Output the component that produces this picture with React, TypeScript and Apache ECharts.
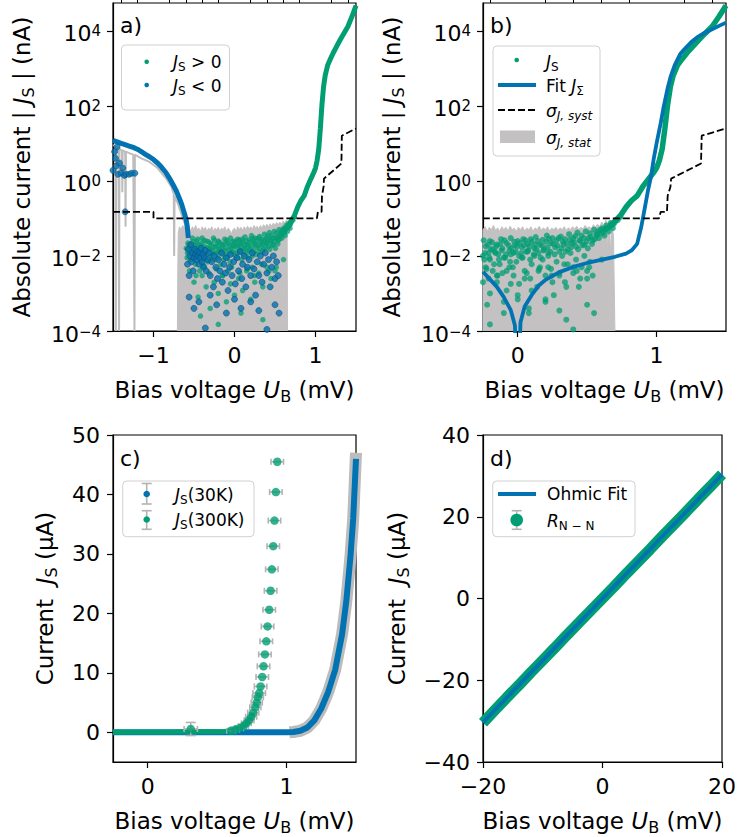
import React, { useEffect, useRef } from 'react';
import * as echarts from 'echarts';

const FONT = 'DejaVu Sans';
const GREEN = '#029e73';
const BLUE = '#0173b2';
const GRAY = '#c3c1c2';
const ERR = '#b3b3b3';

// ---------- ticks ----------
const xTicksA = [-1, 0, 1];
const xMinorA = [-1.4, -1.2, -0.8, -0.6, -0.4, -0.2, 0.2, 0.4, 0.6, 0.8, 1.2, 1.4];
const xTicksB = [0, 1];
const xMinorB = [-0.2, 0.2, 0.4, 0.6, 0.8, 1.2, 1.4];
const yTicksLog = [1e-4, 1e-2, 1, 1e2, 1e4];
const xTicksC = [0, 1];
const yTicksC = [0, 10, 20, 30, 40, 50];
const xTicksD = [-20, 0, 20];
const yTicksD = [-40, -20, 0, 20, 40];

// ---------- panel a / b data (|J| in nA vs U in mV) ----------
const statTopA = [[-0.705,1e-4],[-0.70,0.004],[-0.695,0.04],[-0.68,0.06],[-0.66,0.05],[-0.64,0.065],[-0.62,0.055],[-0.6,0.07],[-0.58,0.05],[-0.56,0.06],[-0.54,0.045],[-0.52,0.06],[-0.5,0.05],[-0.48,0.065],[-0.46,0.05],[-0.44,0.055],[-0.42,0.045],[-0.4,0.06],[-0.38,0.05],[-0.36,0.058],[-0.34,0.045],[-0.32,0.055],[-0.3,0.05],[-0.28,0.06],[-0.26,0.045],[-0.24,0.055],[-0.22,0.05],[-0.2,0.058],[-0.18,0.045],[-0.16,0.055],[-0.14,0.05],[-0.12,0.06],[-0.1,0.045],[-0.08,0.055],[-0.06,0.05],[-0.04,0.038],[-0.02,0.05],[0,0.055],[0.02,0.045],[0.04,0.06],[0.06,0.05],[0.08,0.058],[0.1,0.048],[0.12,0.06],[0.14,0.05],[0.16,0.062],[0.18,0.052],[0.2,0.06],[0.22,0.05],[0.24,0.065],[0.26,0.055],[0.28,0.062],[0.3,0.052],[0.32,0.065],[0.34,0.055],[0.36,0.068],[0.38,0.058],[0.4,0.07],[0.42,0.06],[0.44,0.072],[0.46,0.062],[0.48,0.075],[0.5,0.065],[0.52,0.078],[0.54,0.068],[0.56,0.08],[0.58,0.07],[0.6,0.085],[0.62,0.075],[0.64,0.09],[0.65,0.03],[0.655,1e-4]];

const statSpikesA = [[-1.5,9],[-1.47,8.5],[-1.465,1e-4],[-1.46,8],[-1.43,7.5],[-1.425,1e-4],[-1.42,7],[-1.39,6.5],[-1.385,0.5],[-1.38,6.5],[-1.35,6],[-1.345,0.06],[-1.34,6],[-1.3,5.5],[-1.25,5],[-1.235,1e-4],[-1.23,5],[-1.15,4],[-1.05,3.2],[-0.95,2.2],[-0.85,1.2],[-0.78,0.7],[-0.75,0.45],[-0.745,0.01],[-0.74,0.4],[-0.7,0.25],[-0.65,0.12],[-0.6,0.06]];

const statTopB = [[-0.25,1e-4],[-0.25,0.05],[-0.235,0.06],[-0.22,0.045],[-0.205,0.058],[-0.19,0.05],[-0.175,0.065],[-0.16,0.048],[-0.145,0.056],[-0.13,0.045],[-0.115,0.06],[-0.1,0.05],[-0.085,0.058],[-0.07,0.046],[-0.055,0.062],[-0.04,0.05],[-0.025,0.055],[-0.01,0.045],[0.005,0.058],[0.02,0.05],[0.035,0.06],[0.05,0.046],[0.065,0.055],[0.08,0.05],[0.095,0.06],[0.11,0.045],[0.125,0.056],[0.14,0.05],[0.155,0.062],[0.17,0.048],[0.185,0.056],[0.2,0.05],[0.215,0.06],[0.23,0.046],[0.245,0.055],[0.26,0.05],[0.275,0.058],[0.29,0.047],[0.305,0.056],[0.32,0.05],[0.335,0.06],[0.35,0.048],[0.365,0.056],[0.38,0.05],[0.395,0.06],[0.41,0.052],[0.425,0.062],[0.44,0.05],[0.455,0.058],[0.47,0.052],[0.485,0.065],[0.5,0.055],[0.515,0.06],[0.53,0.052],[0.545,0.068],[0.56,0.058],[0.575,0.07],[0.59,0.06],[0.605,0.08],[0.62,0.065],[0.635,0.09],[0.645,0.07],[0.645,0.012],[0.66,0.09],[0.67,0.01],[0.68,0.085],[0.69,0.03],[0.7,1e-4]];

const greenCloud = [[-0.58,0.012],[-0.56,0.02],[-0.55,0.008],[-0.53,0.015],[-0.52,0.03],[-0.5,0.01],[-0.49,0.018],[-0.48,0.006],[-0.47,0.025],[-0.45,0.012],[-0.44,0.02],[-0.43,0.004],[-0.42,0.015],[-0.4,0.03],[-0.39,0.009],[-0.38,0.018],[-0.36,0.012],[-0.35,0.025],[-0.33,0.007],[-0.32,0.016],[-0.3,0.022],[-0.29,0.01],[-0.27,0.014],[-0.26,0.03],[-0.24,0.008],[-0.23,0.018],[-0.21,0.012],[-0.2,0.025],[-0.18,0.015],[-0.17,0.006],[-0.15,0.02],[-0.14,0.011],[-0.12,0.028],[-0.11,0.016],[-0.09,0.009],[-0.08,0.022],[-0.06,0.014],[-0.05,0.03],[-0.03,0.012],[-0.02,0.019],[0,0.025],[0.01,0.01],[0.03,0.017],[0.04,0.028],[0.06,0.013],[0.07,0.021],[0.09,0.008],[0.1,0.024],[0.12,0.016],[0.13,0.032],[0.15,0.012],[0.16,0.02],[0.18,0.027],[0.19,0.015],[0.21,0.035],[0.22,0.01],[0.24,0.022],[0.25,0.03],[0.27,0.017],[0.28,0.026],[0.3,0.013],[0.31,0.033],[0.33,0.02],[0.34,0.028],[0.36,0.015],[0.37,0.038],[0.39,0.022],[0.4,0.03],[0.42,0.018],[0.43,0.042],[0.45,0.025],[0.46,0.035],[0.48,0.02],[0.49,0.045],[0.51,0.03],[0.52,0.04],[0.54,0.026],[0.55,0.05],[0.57,0.035],[0.58,0.045],[0.6,0.04],[0.61,0.055],[0.63,0.05],[0.64,0.065],[0.66,0.06],[0.67,0.075],[0.69,0.07],[-0.5,0.002],[-0.45,0.0008],[-0.4,0.003],[-0.35,0.0015],[-0.3,0.0004],[-0.25,0.002],[-0.2,0.001],[-0.15,0.003],[-0.1,0.0006],[-0.05,0.0018],[0,0.0009],[0.05,0.0025],[0.1,0.0012],[0.15,0.004],[0.2,0.0007],[0.25,0.002],[0.3,0.0035],[0.35,0.0015],[0.4,0.005],[0.45,0.0025],[0.5,0.004],[-0.42,0.00025],[-0.2,0.00015],[0.08,0.0003],[0.35,0.0002],[-0.38,0.0055],[0.22,0.005],[-0.08,0.004]];

const greenCloud2 = [[-0.595,0.016],[-0.585,0.009],[-0.575,0.022],[-0.565,0.013],[-0.545,0.018],[-0.535,0.011],[-0.515,0.024],[-0.505,0.014],[-0.495,0.008],[-0.485,0.02],[-0.465,0.016],[-0.455,0.028],[-0.435,0.011],[-0.425,0.019],[-0.415,0.007],[-0.405,0.022],[-0.385,0.013],[-0.375,0.026],[-0.365,0.009],[-0.345,0.017],[-0.335,0.012],[-0.325,0.024],[-0.305,0.015],[-0.295,0.008],[-0.285,0.02],[-0.275,0.011],[-0.255,0.017],[-0.245,0.026],[-0.235,0.012],[-0.215,0.02],[-0.205,0.009],[-0.195,0.015],[-0.185,0.023],[-0.165,0.013],[-0.155,0.018],[-0.135,0.008],[-0.125,0.021],[-0.115,0.014],[-0.095,0.026],[-0.085,0.011],[-0.065,0.019],[-0.055,0.007],[-0.045,0.016],[-0.025,0.024],[-0.015,0.013],[-0.005,0.018],[0.015,0.022],[0.025,0.012],[0.035,0.009],[0.045,0.019],[0.055,0.026],[0.075,0.014],[0.085,0.018],[0.095,0.028],[0.115,0.011],[0.125,0.02],[0.135,0.015],[0.145,0.025],[0.165,0.009],[0.175,0.019],[0.185,0.014],[0.205,0.024],[0.215,0.017],[0.225,0.029],[0.235,0.013],[0.255,0.021],[0.265,0.011],[0.285,0.019],[0.295,0.03],[0.315,0.016],[0.325,0.024],[0.345,0.013],[0.355,0.021],[0.375,0.027],[0.385,0.017],[0.405,0.023],[0.415,0.034],[0.435,0.015],[0.445,0.026],[0.465,0.019],[0.475,0.03],[0.495,0.024],[0.505,0.016],[0.525,0.032],[0.535,0.021],[0.555,0.028],[0.565,0.038],[0.585,0.03],[0.595,0.05],[0.615,0.042],[0.625,0.035],[0.645,0.055],[0.655,0.045],[0.675,0.065],[0.685,0.055],[0.7,0.08],[0.72,0.09],[0.74,0.11],[-0.555,0.004],[-0.475,0.003],[-0.395,0.005],[-0.315,0.0035],[-0.225,0.0045],[-0.145,0.003],[-0.035,0.005],[0.065,0.0035],[0.155,0.0045],[0.245,0.003],[0.335,0.006],[0.425,0.004],[0.515,0.005],[0.605,0.008]];

const blueCloud = [[-0.58,0.006],[-0.57,0.015],[-0.56,0.003],[-0.55,0.01],[-0.54,0.02],[-0.53,0.007],[-0.52,0.012],[-0.51,0.004],[-0.5,0.009],[-0.49,0.015],[-0.48,0.011],[-0.47,0.008],[-0.46,0.013],[-0.45,0.01],[-0.44,0.006],[-0.43,0.012],[-0.42,0.009],[-0.41,0.016],[-0.4,0.007],[-0.39,0.011],[-0.38,0.005],[-0.37,0.009],[-0.36,0.014],[-0.35,0.004],[-0.33,0.008],[-0.31,0.012],[-0.3,0.003],[-0.28,0.007],[-0.26,0.0015],[-0.25,0.01],[-0.23,0.005],[-0.21,0.0025],[-0.2,0.008],[-0.18,0.004],[-0.16,0.012],[-0.15,0.002],[-0.13,0.006],[-0.11,0.0035],[-0.1,0.009],[-0.08,0.0012],[-0.06,0.005],[-0.05,0.011],[-0.03,0.003],[-0.01,0.007],[0.01,0.0018],[0.03,0.009],[0.05,0.004],[0.07,0.013],[0.09,0.0025],[0.1,0.006],[0.12,0.01],[0.14,0.0015],[0.16,0.005],[0.18,0.008],[0.2,0.003],[0.22,0.012],[0.24,0.0045],[0.26,0.0009],[0.28,0.007],[0.3,0.003],[0.32,0.01],[0.34,0.002],[0.36,0.006],[0.38,0.012],[0.4,0.0035],[0.42,0.008],[0.44,0.0015],[0.46,0.005],[0.48,0.01],[0.5,0.0025],[0.52,0.007],[0.54,0.003],[-0.56,0.0008],[-0.5,0.0004],[-0.44,0.0006],[-0.36,0.00012],[-0.3,0.0009],[-0.22,0.0005],[-0.1,0.0003],[0.0,0.0007],[0.08,0.0004],[0.2,0.0006],[0.3,0.00035],[0.4,0.00011],[0.5,0.0005],[0.55,0.0003],[-1.5,1.9],[-1.47,4],[-1.46,2.5],[-1.44,1.5],[-1.42,3],[-1.4,1.6],[-1.38,2.2],[-1.36,1.4],[-1.34,1.5],[-1.3,1.5],[-1.27,1.6],[-1.35,0.15],[-1.23,1.6],[-1.48,6],[-1.45,8]];

const greenCurve = [[0.62,0.05],[0.66,0.06],[0.7,0.085],[0.74,0.12],[0.78,0.2],[0.82,0.3],[0.86,0.4],[0.9,0.7],[0.94,1.1],[0.98,1.7],[1.0,2.2],[1.02,3.5],[1.04,7],[1.06,25],[1.08,110],[1.1,330],[1.12,650],[1.15,1200],[1.18,1700],[1.22,2600],[1.26,3800],[1.3,5500],[1.35,8500],[1.4,13000],[1.45,24000],[1.5,47000]];

const blueCurveA = [[-1.5,12],[-1.45,11],[-1.4,10],[-1.35,9.2],[-1.3,8.5],[-1.25,7.8],[-1.2,7],[-1.15,6],[-1.1,5.1],[-1.05,4.4],[-1.0,3.7],[-0.95,3.0],[-0.9,2.3],[-0.85,1.7],[-0.8,1.15],[-0.76,0.8],[-0.72,0.55],[-0.68,0.34],[-0.65,0.23],[-0.62,0.14],[-0.6,0.1],[-0.585,0.065],[-0.575,0.04],[-0.57,0.03]];

const sigmaSyst = [[-1.5,0.15],[-1.0,0.15],[-1.0,0.1],[1.017,0.1],[1.03,0.15],[1.075,0.15],[1.08,0.4],[1.1,0.7],[1.105,1.15],[1.32,2.9],[1.325,16],[1.5,25]];

const fitSigma = [[-0.25,0.0038],[-0.15,0.0015],[-0.1,0.0008],[-0.05,0.00036],[-0.02,0.00014],[0,0.000001],[0.02,0.00017],[0.05,0.00045],[0.1,0.0009],[0.15,0.0016],[0.2,0.0023],[0.3,0.0037],[0.4,0.0051],[0.5,0.0065],[0.6,0.0079],[0.7,0.0095],[0.78,0.0115],[0.82,0.014],[0.86,0.021],[0.89,0.06],[0.91,0.15],[0.94,0.6],[0.96,1.3],[0.98,4],[1.0,10],[1.03,35],[1.05,90],[1.08,300],[1.1,580],[1.13,1200],[1.17,2400],[1.2,3200],[1.25,5000],[1.3,7000],[1.35,9000],[1.4,11000],[1.45,13500],[1.5,16500]];

// ---------- panel c data (J in µA) ----------
const blue30K = [[-0.25,0],[0,0],[0.5,0],[1.0,0],[1.05,0.05],[1.1,0.25],[1.15,0.8],[1.2,2.0],[1.25,4.0],[1.3,6.8],[1.35,10.5],[1.4,16.5],[1.43,22],[1.46,29.5],[1.48,36],[1.5,46]];
const blue30KErrBand = [[1.02,0],[1.05,0.05],[1.1,0.25],[1.15,0.8],[1.2,2.0],[1.25,4.0],[1.3,6.8],[1.35,10.5],[1.4,16.5],[1.43,22],[1.46,29.5],[1.48,36],[1.5,47]];
const green300KBase = [[-0.25,0],[-0.1,0],[0,0],[0.1,0.02],[0.2,0.05],[0.3,0.1],[0.4,0.08],[0.5,0.1],[0.55,0.15],[0.6,0.25],[0.63,0.45],[0.66,0.7],[0.69,1.05],[0.71,1.5],[0.73,2.0],[0.745,2.6],[0.76,3.3]];
// [U, J, xErr, yErr]
const green300KDots = [[0.31,0.55,0.048,1.1],[0.6,0.25,0.03,0],[0.63,0.45,0.03,0],[0.66,0.7,0.03,0],[0.69,1.05,0.035,0],[0.71,1.5,0.035,0],[0.73,2.0,0.035,0],[0.745,2.6,0.04,0],[0.76,3.3,0.04,0],[0.775,4.2,0.04,0],[0.785,5.0,0.04,0],[0.793,5.9,0.04,0],[0.803,6.6,0.045,0],[0.813,7.7,0.045,0],[0.825,9.3,0.045,0],[0.834,11.1,0.045,0],[0.844,13.1,0.045,0],[0.854,15.3,0.045,0],[0.863,17.8,0.045,0],[0.875,20.6,0.045,0],[0.885,23.8,0.045,0],[0.894,27.4,0.045,0],[0.904,31.3,0.045,0],[0.913,35.6,0.045,0],[0.923,40.4,0.045,0],[0.933,45.5,0.045,0]];

// ---------- panel d data ----------
const rNN = [[-20,-30.4],[-18,-27.3],[-16,-24.2],[-14,-21.2],[-12,-18.1],[-10,-15.1],[-8,-12.1],[-6,-9.0],[-4,-6.0],[-2,-3.0],[0,0.0],[2,3.0],[4,6.1],[6,9.1],[8,12.1],[10,15.2],[12,18.2],[14,21.2],[16,24.3],[18,27.3],[20,30.4]];
const ohmicFit = [[-20,-30.3],[20,30.3]];

// ---------- formatting ----------
const MINUS = '\u2212';
const fmtNum = (v: number) => (v < 0 ? MINUS + Math.abs(v) : String(v));
const fmtLog = (v: number) => {
  const e = Math.round(Math.log10(v));
  return `{b|10}{s|${e < 0 ? MINUS : ''}${Math.abs(e)}}`;
};
const TICK_FS = 22;
const NAME_FS = 23;
const LEG_FS = 17;

const richLog = {
  b: { fontFamily: FONT, fontSize: TICK_FS, color: '#000', lineHeight: 26, padding: [6, 0, 0, 0] },
  s: { fontFamily: FONT, fontSize: 15, color: '#000', lineHeight: 14, padding: [6, 0, 0, 0], verticalAlign: 'top' },
};
const richName = {
  t: { fontFamily: FONT, fontSize: NAME_FS, color: '#000', lineHeight: 28 },
  i: { fontFamily: FONT, fontSize: NAME_FS, fontStyle: 'italic', color: '#000', lineHeight: 28 },
  s: { fontFamily: FONT, fontSize: 16, color: '#000', lineHeight: 16, verticalAlign: 'bottom' },
};
const richLeg = {
  t: { fontFamily: FONT, fontSize: LEG_FS, color: '#000', lineHeight: 22 },
  i: { fontFamily: FONT, fontSize: LEG_FS, fontStyle: 'italic', color: '#000', lineHeight: 22 },
  s: { fontFamily: FONT, fontSize: 12, color: '#000', lineHeight: 12, verticalAlign: 'bottom' },
  si: { fontFamily: FONT, fontSize: 12, fontStyle: 'italic', color: '#000', lineHeight: 12, verticalAlign: 'bottom' },
};

const X_NAME = '{t|Bias voltage }{i|U}{s|B}{t| (mV)}';
const Y_NAME_LOG = '{t|Absolute current | }{i|J}{s|S}{t| | (nA)}';
const Y_NAME_LIN = '{t|Current  }{i|J}{s|S}{t| (μA)}';

const lineStyleAxis = { color: '#000', width: 1.2 };

function mkX(gridIndex: number, min: number, max: number, ticks: number[]) {
  return {
    type: 'value', gridIndex, min, max,
    name: X_NAME, nameLocation: 'middle', nameGap: 45,
    nameTextStyle: { fontFamily: FONT, fontSize: NAME_FS, color: '#000', rich: richName },
    axisLine: { show: true, onZero: false, lineStyle: lineStyleAxis },
    axisTick: { show: true, customValues: ticks, length: 6, lineStyle: lineStyleAxis },
    axisLabel: { show: true, customValues: ticks, formatter: fmtNum, margin: 13, fontFamily: FONT, fontSize: TICK_FS, color: '#000' },
    splitLine: { show: false },
  };
}
function mkMinorX(gridIndex: number, min: number, max: number, ticks: number[]) {
  return {
    type: 'value', gridIndex, min, max,
    axisLine: { show: false, onZero: false },
    axisTick: { show: true, customValues: ticks, length: 3.5, lineStyle: { color: '#000', width: 1 } },
    axisLabel: { show: false },
    splitLine: { show: false },
  };
}
function mkYLog(gridIndex: number, nameGap: number) {
  return {
    type: 'log', logBase: 10, gridIndex, min: 1e-4, max: 5.5e4,
    name: Y_NAME_LOG, nameLocation: 'middle', nameGap,
    nameTextStyle: { fontFamily: FONT, fontSize: 22.5, color: '#000', rich: richName },
    axisLine: { show: true, onZero: false, lineStyle: lineStyleAxis },
    axisTick: { show: true, customValues: yTicksLog, length: 6, lineStyle: lineStyleAxis },
    axisLabel: { show: true, customValues: yTicksLog, formatter: fmtLog, rich: richLog, margin: 12, fontFamily: FONT, fontSize: TICK_FS, color: '#000' },
    splitLine: { show: false }, minorTick: { show: false },
  };
}
function mkYLin(gridIndex: number, min: number, max: number, ticks: number[], nameGap: number) {
  return {
    type: 'value', gridIndex, min, max,
    name: Y_NAME_LIN, nameLocation: 'middle', nameGap,
    nameTextStyle: { fontFamily: FONT, fontSize: NAME_FS, color: '#000', rich: richName },
    axisLine: { show: true, onZero: false, lineStyle: lineStyleAxis },
    axisTick: { show: true, customValues: ticks, length: 6, lineStyle: lineStyleAxis },
    axisLabel: { show: true, customValues: ticks, formatter: fmtNum, margin: 13, fontFamily: FONT, fontSize: TICK_FS, color: '#000' },
    splitLine: { show: false },
  };
}

const gridBox = { show: true, borderColor: '#000', borderWidth: 1.2, backgroundColor: 'transparent' };

function lineS(name: string, xi: number, data: number[][], color: string, width: number, z: number, extra: any = {}, dash?: number[]) {
  return {
    type: 'line', name, xAxisIndex: xi, yAxisIndex: xi, data, symbol: 'none', silent: true, z,
    lineStyle: dash ? { color, width, type: dash } : { color, width }, ...extra,
  };
}

function errRender(params: any, api: any) {
  const x = api.value(0), y = api.value(1), ex = api.value(2), ey = api.value(3);
  const st = { stroke: ERR, lineWidth: 1.6 };
  const l = api.coord([x - ex, y]);
  const r = api.coord([x + ex, y]);
  const ch: any[] = [
    { type: 'line', shape: { x1: l[0], y1: l[1], x2: r[0], y2: r[1] }, style: st },
    { type: 'line', shape: { x1: l[0], y1: l[1] - 3, x2: l[0], y2: l[1] + 3 }, style: st },
    { type: 'line', shape: { x1: r[0], y1: r[1] - 3, x2: r[0], y2: r[1] + 3 }, style: st },
  ];
  if (ey > 0) {
    const t = api.coord([x, y + ey]);
    const b = api.coord([x, y - ey]);
    ch.push({ type: 'line', shape: { x1: t[0], y1: t[1], x2: b[0], y2: b[1] }, style: st });
    ch.push({ type: 'line', shape: { x1: t[0] - 5, y1: t[1], x2: t[0] + 5, y2: t[1] }, style: st });
    ch.push({ type: 'line', shape: { x1: b[0] - 5, y1: b[1], x2: b[0] + 5, y2: b[1] }, style: st });
  }
  return { type: 'group', children: ch };
}

// ---------- graphic helpers (legends, panel letters) ----------
const gz = 100;
const gText = (x: number, y: number, text: string, fs = LEG_FS) => ({
  type: 'text', x, y, z: gz + 2,
  style: { text, rich: richLeg, fill: '#000', fontFamily: FONT, fontSize: fs, verticalAlign: 'middle', align: 'left' },
});
const gBox = (x: number, y: number, w: number, h: number) => ({
  type: 'rect', z: gz, shape: { x, y, width: w, height: h, r: 4 },
  style: { fill: 'rgba(255,255,255,0.85)', stroke: '#d0d0d0', lineWidth: 1 },
});
const gDot = (cx: number, cy: number, r: number, color: string) => ({
  type: 'circle', z: gz + 2, shape: { cx, cy, r }, style: { fill: color },
});
const gLine = (x1: number, y1: number, x2: number, y2: number, stroke: string, lineWidth: number, lineDash?: number[]) => ({
  type: 'line', z: gz + 1, shape: { x1, y1, x2, y2 }, style: { stroke, lineWidth, lineDash },
});
const gErr = (cx: number, y1: number, y2: number) => [
  gLine(cx, y1, cx, y2, ERR, 1.6),
  gLine(cx - 5, y1, cx + 5, y1, ERR, 1.6),
  gLine(cx - 5, y2, cx + 5, y2, ERR, 1.6),
];
const gLetter = (x: number, y: number, t: string) => ({
  type: 'text', x, y, z: gz,
  style: { text: t, fill: '#000', fontFamily: FONT, fontSize: 22, verticalAlign: 'middle', align: 'left' },
});

function buildOption() {
  const graphic = [
    gLetter(120, 25, 'a)'), gLetter(490, 25, 'b)'), gLetter(120, 458, 'c)'), gLetter(490, 458, 'd)'),
    // legend a
    gBox(121.5, 45, 108, 65),
    gDot(146.7, 61.7, 2.3, GREEN), gText(173, 62, '{i|J}{s|S}{t| > 0}'),
    gDot(146.7, 85, 2.3, BLUE), gText(173, 86, '{i|J}{s|S}{t| < 0}'),
    // legend b
    gBox(493, 46, 107, 110),
    gDot(516.7, 60, 2.3, GREEN), gText(546, 62, '{i|J}{s|S}'),
    gLine(498, 85, 536, 85, BLUE, 3.8), gText(546, 86, '{t|Fit }{i|J}{s|Σ}'),
    gLine(498, 110, 536, 110, '#000', 1.8, [7, 3]), gText(546, 111, '{i|σ}{si|J, syst}'),
    { type: 'rect', z: gz + 1, shape: { x: 500, y: 130.5, width: 35, height: 12.5 }, style: { fill: GRAY } },
    gText(546, 138, '{i|σ}{si|J, stat}'),
    // legend c
    gBox(122.7, 481, 131.3, 55.7),
    ...gErr(146.7, 483.5, 504), gDot(146.7, 494, 3.3, BLUE), gText(175, 495, '{i|J}{s|S}{t|(30K)}'),
    ...gErr(146.7, 510.7, 529.3), gDot(146.7, 519.5, 3.3, GREEN), gText(175, 520, '{i|J}{s|S}{t|(300K)}'),
    // legend d
    gBox(492.7, 481, 142.3, 55.7),
    gLine(498, 494, 536, 494, BLUE, 3.8), gText(547, 494, '{t|Ohmic Fit}'),
    ...gErr(516.7, 510.7, 529.3), gDot(516.7, 520, 6.3, GREEN), gText(547, 521, '{i|R}{s|N − N}'),
  ];

  const cloudA = greenCloud.concat(greenCloud2);
  const cloudB = greenCloud.concat(greenCloud2, blueCloud);

  const series: any[] = [
    // ----- panel a -----
    lineS('σJ,stat', 0, statTopA, GRAY, 1, 1, { areaStyle: { color: GRAY, opacity: 1, origin: 'start' } }),
    lineS('σJ,stat spikes', 0, statSpikesA, '#bdbdbd', 2, 1),
    { type: 'scatter', name: 'JS > 0', xAxisIndex: 0, yAxisIndex: 0, data: cloudA, symbolSize: 5.5, silent: true, z: 3,
      itemStyle: { color: GREEN, opacity: 0.75 } },
    lineS('JS > 0 (curve)', 0, greenCurve, GREEN, 5, 4),
    { type: 'scatter', name: 'JS < 0', xAxisIndex: 0, yAxisIndex: 0, data: blueCloud, symbolSize: 6, silent: true, z: 5,
      itemStyle: { color: BLUE, borderColor: '#14507e', borderWidth: 0.8 } },
    lineS('JS < 0 (curve)', 0, blueCurveA, BLUE, 5, 5),
    lineS('σJ,syst', 0, sigmaSyst, '#000', 1.8, 6, {}, [7, 3]),
    // ----- panel b -----
    lineS('σJ,stat b', 1, statTopB, GRAY, 1, 1, { areaStyle: { color: GRAY, opacity: 1, origin: 'start' } }),
    { type: 'scatter', name: 'JS', xAxisIndex: 1, yAxisIndex: 1, data: cloudB, symbolSize: 6, silent: true, z: 3,
      itemStyle: { color: GREEN, opacity: 0.75 } },
    lineS('JS curve', 1, greenCurve, GREEN, 5.5, 4),
    lineS('Fit JΣ', 1, fitSigma, BLUE, 3.8, 5),
    lineS('σJ,syst b', 1, sigmaSyst, '#000', 1.8, 6, {}, [7, 3]),
    // ----- panel c -----
    lineS('JS(30K) error', 2, blue30KErrBand, '#bcbcbc', 12, 2),
    lineS('JS(30K)', 2, blue30K, BLUE, 6, 3),
    lineS('JS(300K) base', 2, green300KBase, GREEN, 5, 4),
    { type: 'custom', name: 'JS(300K) errors', xAxisIndex: 2, yAxisIndex: 2, data: green300KDots, renderItem: errRender,
      encode: { x: 0, y: 1 }, silent: true, z: 5 },
    { type: 'scatter', name: 'JS(300K)', xAxisIndex: 2, yAxisIndex: 2, data: green300KDots.map((d) => [d[0], d[1]]),
      symbolSize: 8.5, silent: true, itemStyle: { color: GREEN }, z: 6 },
    // ----- panel d -----
    lineS('RN-N', 3, rNN, GREEN, 11, 2),
    lineS('Ohmic Fit', 3, ohmicFit, BLUE, 4, 3),
  ];

  return {
    animation: false,
    backgroundColor: '#fff',
    textStyle: { fontFamily: FONT },
    grid: [
      { left: 113, top: 3, width: 243, height: 328, ...gridBox },
      { left: 483, top: 3, width: 243, height: 328, ...gridBox },
      { left: 113, top: 435, width: 243, height: 327, ...gridBox },
      { left: 483, top: 435, width: 243, height: 327, ...gridBox },
    ],
    xAxis: [
      mkX(0, -1.5, 1.5, xTicksA),
      mkX(1, -0.25, 1.5, xTicksB),
      mkX(2, -0.25, 1.5, xTicksC),
      mkX(3, -20, 20, xTicksD),
      mkMinorX(0, -1.5, 1.5, xMinorA),
      mkMinorX(1, -0.25, 1.5, xMinorB),
    ],
    yAxis: [
      mkYLog(0, 77),
      mkYLog(1, 77),
      mkYLin(2, -5, 50, yTicksC, 54),
      mkYLin(3, -40, 40, yTicksD, 72),
    ],
    series,
    graphic,
  };
}

export default function App() {
  const ref = useRef<HTMLDivElement>(null);
  useEffect(() => {
    if (!ref.current) return;
    const chart = echarts.init(ref.current, null, { renderer: 'svg' });
    chart.setOption(buildOption() as any);
    return () => chart.dispose();
  }, []);
  return <div ref={ref} style={{ position: 'absolute', left: 0, top: 0, width: 739, height: 837 }} />;
}
